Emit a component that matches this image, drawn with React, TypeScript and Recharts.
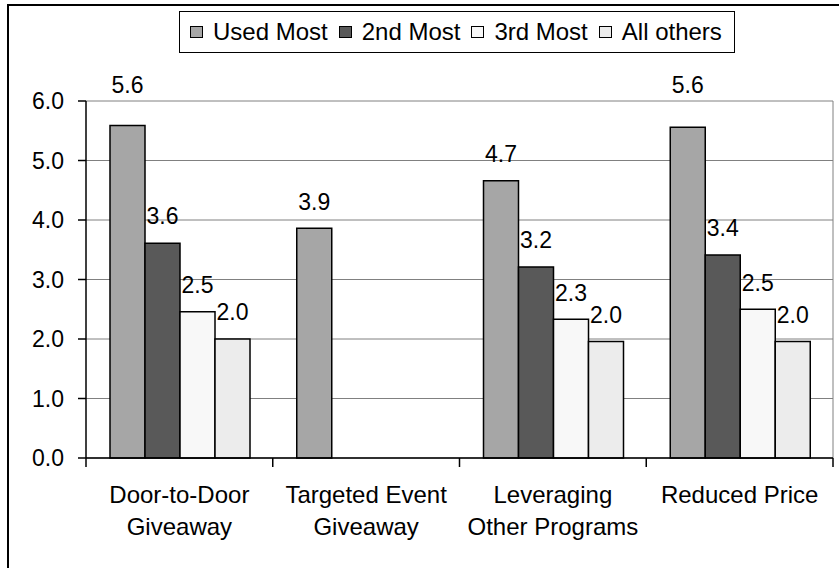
import { Bar, BarChart, CartesianGrid, LabelList, XAxis, YAxis } from "recharts";

// Category names, "\n" marks the line break under the axis
const CATEGORIES = [
  "Door-to-Door\nGiveaway",
  "Targeted Event\nGiveaway",
  "Leveraging\nOther Programs",
  "Reduced Price",
];

const USED_MOST = [5.59, 3.86, 4.66, 5.56];
const SECOND_MOST = [3.61, null, 3.21, 3.41];
const THIRD_MOST = [2.46, null, 2.33, 2.5];
const ALL_OTHERS = [2.0, null, 1.96, 1.96];

const Y_TICKS = [0, 1, 2, 3, 4, 5, 6];

const SERIES = [
  { key: "used", name: "Used Most", color: "#a6a6a6" },
  { key: "second", name: "2nd Most", color: "#595959" },
  { key: "third", name: "3rd Most", color: "#f8f8f8" },
  { key: "others", name: "All others", color: "#ececec" },
];

const WIDTH = 839;
const HEIGHT = 568;
const X_AXIS_HEIGHT = 30;
const MARGIN = { top: 101, right: 6, bottom: 110 - X_AXIS_HEIGHT, left: 0 };
const Y_AXIS_WIDTH = 86;
const PLOT_LEFT = MARGIN.left + Y_AXIS_WIDTH;
const PLOT_RIGHT = WIDTH - MARGIN.right;
const FONT = '"Liberation Sans", Arial, sans-serif';

const data = CATEGORIES.map((name, i) => ({
  name,
  used: USED_MOST[i],
  second: SECOND_MOST[i],
  third: THIRD_MOST[i],
  others: ALL_OTHERS[i],
}));

// Category label plus tick marks on the band edges
function CategoryTick(props: any) {
  const { x, y, payload, index } = props;
  const half = (PLOT_RIGHT - PLOT_LEFT) / CATEGORIES.length / 2;
  const lines = String(payload.value).split("\n");
  return (
    <g>
      <line x1={x - half} x2={x - half} y1={y} y2={y + 9} stroke="#000" strokeWidth={1.5} />
      {index === CATEGORIES.length - 1 && (
        <line x1={x + half} x2={x + half} y1={y} y2={y + 9} stroke="#000" strokeWidth={1.5} />
      )}
      <text x={x} y={y + 45} textAnchor="middle" fontSize={24} fontFamily={FONT} fill="#000">
        {lines.map((line, i) => (
          <tspan key={i} x={x} dy={i === 0 ? 0 : 32}>
            {line}
          </tspan>
        ))}
      </text>
    </g>
  );
}

// Value above each bar; labels that would sit on the top frame go above it
function ValueLabel(props: any) {
  const { x, y, width, value } = props;
  if (value == null) return null;
  let cy = Number(y) - 27;
  if (cy < MARGIN.top + 12) cy = MARGIN.top - 16;
  return (
    <text
      x={Number(x) + Number(width) / 2}
      y={cy}
      dy="0.36em"
      textAnchor="middle"
      fontSize={23}
      fontFamily={FONT}
      fill="#000"
    >
      {Number(value).toFixed(1)}
    </text>
  );
}

function LegendBox() {
  return (
    <div
      style={{
        position: "absolute",
        left: 179,
        top: 11,
        height: 40,
        display: "flex",
        alignItems: "center",
        padding: "0 12px 0 10px",
        border: "1.5px solid #000",
        background: "#fff",
        fontFamily: FONT,
        fontSize: 24,
        color: "#000",
        whiteSpace: "nowrap",
      }}
    >
      {SERIES.map((s, i) => (
        <span key={s.key} style={{ display: "flex", alignItems: "center", marginLeft: i === 0 ? 0 : 11 }}>
          <span
            style={{
              display: "inline-block",
              width: 11,
              height: 10,
              background: s.color,
              border: "1.5px solid #000",
              marginRight: 10,
            }}
          />
          {s.name}
        </span>
      ))}
    </div>
  );
}

export default function App() {
  return (
    <div
      style={{
        position: "absolute",
        left: 0,
        top: 0,
        width: WIDTH,
        height: HEIGHT,
        overflow: "hidden",
        background: "#fff",
      }}
    >
      <div
        style={{
          position: "absolute",
          left: 7,
          top: 4,
          width: 1000,
          height: 1000,
          border: "2px solid #000",
        }}
      />
      <div style={{ position: "absolute", left: 0, top: 0 }}>
        <BarChart
          width={WIDTH}
          height={HEIGHT}
          data={data}
          margin={MARGIN}
          barCategoryGap={24}
          barGap={0}
        >
          <CartesianGrid
            stroke="#808080"
            strokeWidth={1}
            verticalCoordinatesGenerator={({ offset }: any) => [offset.left + offset.width]}
          />
          <XAxis
            dataKey="name"
            height={X_AXIS_HEIGHT}
            interval={0}
            tickLine={false}
            tickSize={0}
            tickMargin={0}
            axisLine={{ stroke: "#000", strokeWidth: 1.5 }}
            tick={<CategoryTick />}
          />
          <YAxis
            width={Y_AXIS_WIDTH}
            domain={[0, 6]}
            ticks={Y_TICKS}
            interval={0}
            tickFormatter={(v: number) => v.toFixed(1)}
            tickSize={8}
            tickMargin={14}
            axisLine={{ stroke: "#000", strokeWidth: 1.5 }}
            tickLine={{ stroke: "#000", strokeWidth: 1.5 }}
            tick={{ fill: "#000", fontSize: 23, fontFamily: FONT }}
          />
          {SERIES.map((s) => (
            <Bar
              key={s.key}
              dataKey={s.key}
              name={s.name}
              fill={s.color}
              stroke="#000"
              strokeWidth={1.5}
              isAnimationActive={false}
            >
              <LabelList dataKey={s.key} content={<ValueLabel />} />
            </Bar>
          ))}
        </BarChart>
      </div>
      <LegendBox />
    </div>
  );
}
